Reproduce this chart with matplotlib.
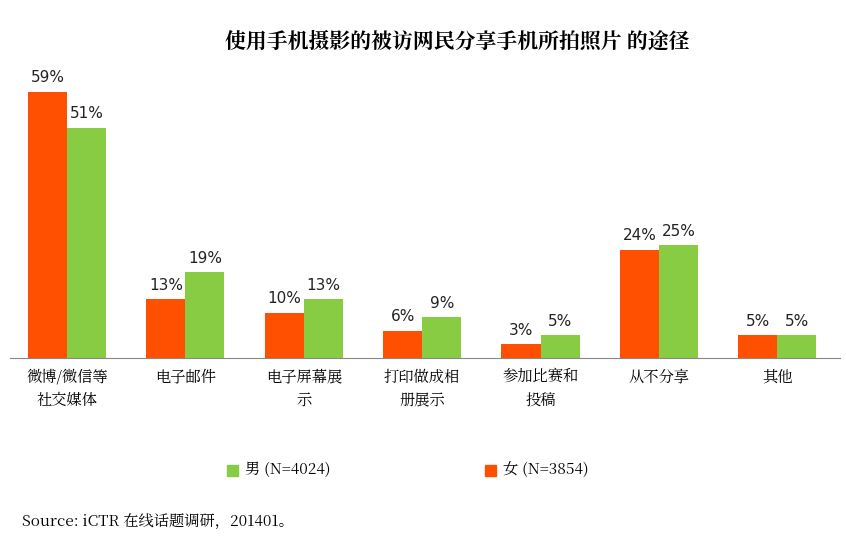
import matplotlib.pyplot as plt
from matplotlib import font_manager as fm
import numpy as np

# pick a CJK font file directly in case the family name isn't registered
cjk = [f for f in fm.findSystemFonts() if "CJK" in f or "cjk" in f.lower()]
if cjk:
    for f in cjk:
        fm.fontManager.addfont(f)
    names = [fm.FontProperties(fname=f).get_name() for f in cjk]
    plt.rcParams["font.family"] = "sans-serif"
    plt.rcParams["font.sans-serif"] = sorted(set(names), key=lambda n: "SC" not in n) + ["DejaVu Sans"]
else:
    plt.rcParams["font.family"] = "Noto Sans CJK SC"

categories = ["微博/微信等\n社交媒体", "电子邮件", "电子屏幕展\n示", "打印做成相\n册展示",
              "参加比赛和\n投稿", "从不分享", "其他"]
female = [59, 13, 10, 6, 3, 24, 5]
male = [51, 19, 13, 9, 5, 25, 5]

orange = "#FF4F00"
green = "#88CC44"

fig = plt.figure(figsize=(8.46, 5.54), dpi=100)
ax = fig.add_axes([10 / 846, 1 - 358 / 554, 830 / 846, (358 - 65) / 554])

x = np.arange(len(categories))
w = 0.33
b1 = ax.bar(x - w / 2, female, w, color=orange, label="女 (N=3854)")
b2 = ax.bar(x + w / 2, male, w, color=green, label="男 (N=4024)")
for bars, vals in ((b1, female), (b2, male)):
    for r, v in zip(bars, vals):
        ax.text(r.get_x() + r.get_width() / 2, v + 1.5, f"{v}%", ha="center", va="bottom",
                fontsize=11, family="DejaVu Sans", color="#222222")

ax.set_xlim(-0.482, 6.53)
ax.set_ylim(0, 65)
ax.set_yticks([])
ax.set_xticks(x)
ax.set_xticklabels(categories, fontsize=11, linespacing=1.6)
ax.tick_params(axis="x", length=0, pad=8)
for s in ["top", "right", "left"]:
    ax.spines[s].set_visible(False)
ax.spines["bottom"].set_color("#888888")

fig.text(0.54, 1 - 42 / 554, "使用手机摄影的被访网民分享手机所拍照片 的途径", ha="center", va="center",
         fontsize=15, fontweight="bold")

# legend
fig.patches.append(plt.Rectangle((227 / 846, 1 - 476 / 554), 11 / 846, 11 / 554,
                                 transform=fig.transFigure, color=green))
fig.text(245 / 846, 1 - 470 / 554, "男 (N=4024)", va="center", fontsize=11)
fig.patches.append(plt.Rectangle((485 / 846, 1 - 476 / 554), 11 / 846, 11 / 554,
                                 transform=fig.transFigure, color=orange))
fig.text(503 / 846, 1 - 470 / 554, "女 (N=3854)", va="center", fontsize=11)

fig.text(22 / 846, 1 - 522 / 554, "Source: iCTR 在线话题调研，201401。", va="center", fontsize=11)

fig.savefig("out.png")
